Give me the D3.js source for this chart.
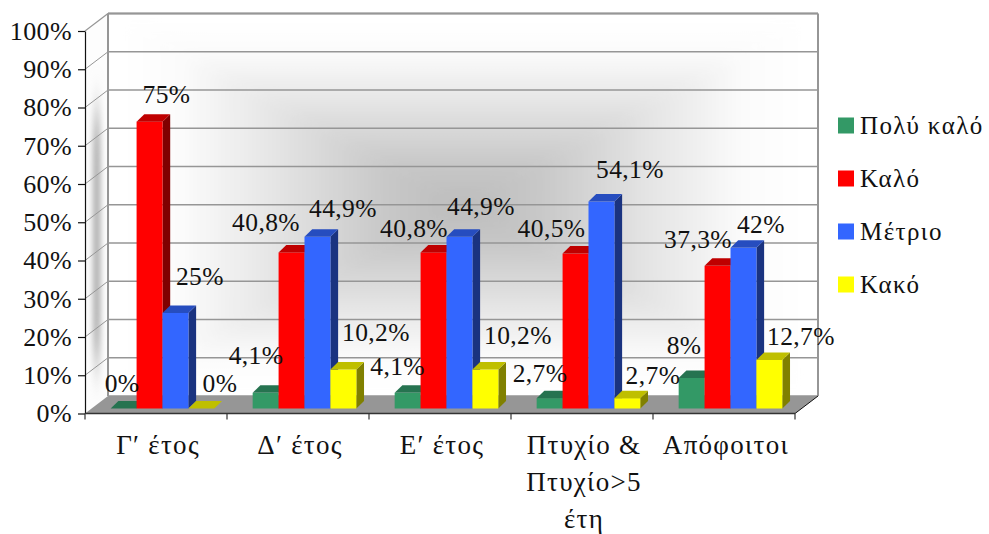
<!DOCTYPE html>
<html><head><meta charset="utf-8">
<script src="https://cdn.jsdelivr.net/npm/d3@7"></script>
<style>
html,body{margin:0;padding:0;background:#fff}
svg{display:block}
text{font-family:"Liberation Serif",serif;fill:#111}
</style></head><body>
<svg id="chart" width="989" height="534"></svg>
<script>
const categories=[["Γ′ έτος"],["Δ′ έτος"],["Ε′ έτος"],["Πτυχίο &","Πτυχίο>5","έτη"],["Απόφοιτοι"]];
const seriesNames=["Πολύ καλό","Καλό","Μέτριο","Κακό"];
const veryGood=[0,4.1,4.1,2.7,8];
const good=[75,40.8,40.8,40.5,37.3];
const medium=[25,44.9,44.9,54.1,42];
const bad=[0,10.2,10.2,2.7,12.7];
const valueLabels=[["0%","4,1%","4,1%","2,7%","8%"],["75%","40,8%","40,8%","40,5%","37,3%"],["25%","44,9%","44,9%","54,1%","42%"],["0%","10,2%","10,2%","2,7%","12,7%"]];
const labelOffsets=[
 [[-1.6,-16.5],[-9.6,-28.8],[-10,-17.8],[-9.6,-16.2],[-7.6,-23.9]],
 [[17,-18.6],[-25.5,-21.4],[-19.5,-15.4],[-24,-16.6],[-19.5,-17.8]],
 [[24.5,-27.9],[25.5,-19.8],[21.5,-21.8],[28.5,-23.6],[17.5,-14.8]],
 [[18.6,-16.5],[32.6,-28.5],[32.6,-25.5],[25.6,-14.2],[31.6,-14.9]]];
const yTicks=[0,10,20,30,40,50,60,70,80,90,100];
const frontFace=["#339966","#ff0000","#3366ff","#ffff00"];
const topFace=["#267350","#bf0000","#264dbf","#bfbf00"];
const sideFace=["#1a4d33","#800000","#1a3380","#808000"];

const svg=d3.select("#chart");
const series=[veryGood,good,medium,bad];
const front={x0:85,x1:795,y0:413.5,y1:31};
const wall={dx:23,dy:-17.5};
const barDepth={dx:7.7,dy:-7.5};
const barShift={dx:6.5,dy:-5};
const y=d3.scaleLinear().domain([0,100]).range([front.y0,front.y1]);
const x=d3.scaleBand().domain(d3.range(categories.length)).range([front.x0,front.x1]);
const inner=d3.scaleBand().domain(d3.range(series.length)).range([x.bandwidth()*0.135,x.bandwidth()*0.865]);

// wall gradients
const defs=svg.append("defs");
const bx0=front.x0+wall.dx,bx1=front.x1+wall.dx,by0=front.y1+wall.dy,by1=front.y0+wall.dy;
const cx=(bx0+bx1)/2,cy=(by0+by1)/2;
const stops=[[0,"#ffffff"],[0.2,"#fcfcfc"],[0.5,"#e2e2e2"],[0.78,"#c8c8c8"],[1,"#bcbcbc"]];
function grad(id,x1,y1,x2,y2){
  const g=defs.append("linearGradient").attr("id",id).attr("gradientUnits","userSpaceOnUse")
    .attr("x1",x1).attr("y1",y1).attr("x2",x2).attr("y2",y2);
  g.selectAll("stop").data(stops).join("stop").attr("offset",d=>d[0]).attr("stop-color",d=>d[1]);
}
grad("gTop",0,by0,0,cy);grad("gBot",0,by1,0,cy);grad("gL",bx0,0,cx,0);grad("gR",bx1,0,cx,0);
const line=d3.line();
defs.append("clipPath").attr("id","backClip").append("rect").attr("x",bx0).attr("y",by0).attr("width",bx1-bx0).attr("height",by1-by0);
defs.append("filter").attr("id","backBlur").attr("x","-5%").attr("y","-10%").attr("width","110%").attr("height","120%")
  .append("feGaussianBlur").attr("stdDeviation",9);
svg.append("rect").attr("x",bx0).attr("y",by0).attr("width",bx1-bx0).attr("height",by1-by0).attr("fill","#fff");
const tris=[["gTop",[[bx0,by0],[bx1,by0],[cx,cy]]],["gBot",[[bx0,by1],[bx1,by1],[cx,cy]]],["gL",[[bx0,by0],[bx0,by1],[cx,cy]]],["gR",[[bx1,by0],[bx1,by1],[cx,cy]]]];
svg.append("g").attr("clip-path","url(#backClip)").append("g").attr("filter","url(#backBlur)")
  .selectAll("path").data(tris).join("path")
  .attr("d",d=>line(d[1])+"Z").attr("fill",d=>`url(#${d[0]})`).attr("stroke",d=>`url(#${d[0]})`).attr("stroke-width",0.6);
// side wall: white with a soft grey vertical band
const sideOutline=line([[front.x0,y(100)],[bx0,by0],[bx0,by1],[front.x0,y(0)]])+"Z";
defs.append("clipPath").attr("id","sideClip").append("path").attr("d",sideOutline);
defs.append("filter").attr("id","sideBlur").attr("x","-300%").attr("y","-30%").attr("width","700%").attr("height","160%")
  .append("feGaussianBlur").attr("stdDeviation","3 22");
svg.append("path").attr("d",sideOutline).attr("fill","#fdfdfd");
svg.append("g").attr("clip-path","url(#sideClip)").append("rect")
  .attr("x",front.x0+wall.dx*0.36).attr("width",wall.dx*0.3)
  .attr("y",y(78)).attr("height",y(14)-y(78)).attr("fill","#a6a6a6").attr("filter","url(#sideBlur)");
// floor
svg.append("path").attr("d",line([[front.x0,y(0)],[bx0,by1],[bx1,by1],[front.x1,y(0)]])+"Z").attr("fill","#969696");
// gridlines
const grid=svg.append("g").attr("fill","none").attr("stroke","#969696").attr("stroke-width",1.6);
yTicks.forEach(t=>{
  grid.append("path").attr("d",line([[bx0,y(t)+wall.dy],[bx1,y(t)+wall.dy]]));
  if(t>0&&t<100)grid.append("path").attr("stroke-width",1).attr("d",line([[front.x0,y(t)],[bx0,y(t)+wall.dy]]));
});
grid.append("path").attr("stroke-width",1.2).attr("d",line([[front.x0,y(100)],[bx0,by0]]));
grid.append("path").attr("stroke-width",2).attr("d",line([[bx0,by0],[bx0,by1]]));
grid.append("path").attr("stroke-width",2).attr("d",line([[bx1,by0],[bx1,by1]]));
grid.append("path").attr("stroke-width",2).attr("d",line([[bx0,by0],[bx1,by0]]));
grid.append("path").attr("stroke","#111").attr("stroke-width",1).attr("d",line([[front.x1,y(0)],[bx1,by1]]));

// bars
const bars=svg.append("g");
categories.forEach((c,ci)=>series.forEach((vals,si)=>{
  const v=vals[ci];
  const xa=x(ci)+inner(si)+barShift.dx,xb=xa+inner.bandwidth();
  const ya=y(0)+barShift.dy,yb=y(v)+barShift.dy;
  const d=barDepth;
  if(v>0){
    bars.append("path").attr("fill",sideFace[si]).attr("d",line([[xb,ya],[xb,yb],[xb+d.dx,yb+d.dy],[xb+d.dx,ya+d.dy]])+"Z");
    bars.append("rect").attr("x",xa).attr("y",yb).attr("width",inner.bandwidth()).attr("height",ya-yb).attr("fill",frontFace[si]);
  }
  bars.append("path").attr("fill",topFace[si]).attr("d",line([[xa,yb],[xa+d.dx,yb+d.dy],[xb+d.dx,yb+d.dy],[xb,yb]])+"Z");
}));

// value labels
const lab=svg.append("g").attr("font-size",25.5).attr("text-anchor","middle").attr("letter-spacing",0.4);
categories.forEach((c,ci)=>series.forEach((vals,si)=>{
  const o=labelOffsets[si][ci];
  lab.append("text").attr("x",x(ci)+inner(si)+barShift.dx+inner.bandwidth()/2+o[0]).attr("y",y(vals[ci])+barShift.dy+o[1]).text(valueLabels[si][ci]);
}));

// y axis
const yAxis=d3.axisLeft(y).tickValues(yTicks).tickSize(7).tickPadding(6).tickSizeOuter(0).tickFormat(d=>d+"%");
const yg=svg.append("g").attr("transform",`translate(${front.x0},0)`).call(yAxis);
yg.select(".domain").attr("stroke","#111").attr("stroke-width",1.2);
yg.selectAll(".tick line").attr("stroke","#111").attr("stroke-width",1.2);
yg.selectAll("text").attr("font-size",26).attr("dy","0.32em").attr("letter-spacing",0.4);

// x axis
const edges=d3.scaleLinear().domain([0,categories.length]).range([front.x0,front.x1]);
const xg=svg.append("g").attr("transform",`translate(0,${front.y0})`);
xg.append("path").attr("d",line([[front.x0,0],[front.x1,0]])).attr("stroke","#333").attr("stroke-width",1.6);
xg.selectAll("line").data(d3.range(categories.length+1)).join("line")
  .attr("x1",d=>edges(d)).attr("x2",d=>edges(d)).attr("y1",0).attr("y2",6).attr("stroke","#333").attr("stroke-width",1.2);
categories.forEach((lines,ci)=>{
  lines.forEach((t,li)=>{
    xg.append("text").attr("x",x(ci)+x.bandwidth()/2+2).attr("y",40.5+li*37).attr("text-anchor","middle")
      .attr("font-size",27).attr("letter-spacing",1.3).text(t);
  });
});

// legend
const leg=svg.append("g");
seriesNames.forEach((n,i)=>{
  const ly=125.5+i*53;
  leg.append("rect").attr("x",838).attr("y",ly-8).attr("width",16).attr("height",16).attr("fill",frontFace[i]);
  leg.append("text").attr("x",860).attr("y",ly+8).attr("font-size",25).attr("letter-spacing",1.4).text(n);
});
</script></body></html>
